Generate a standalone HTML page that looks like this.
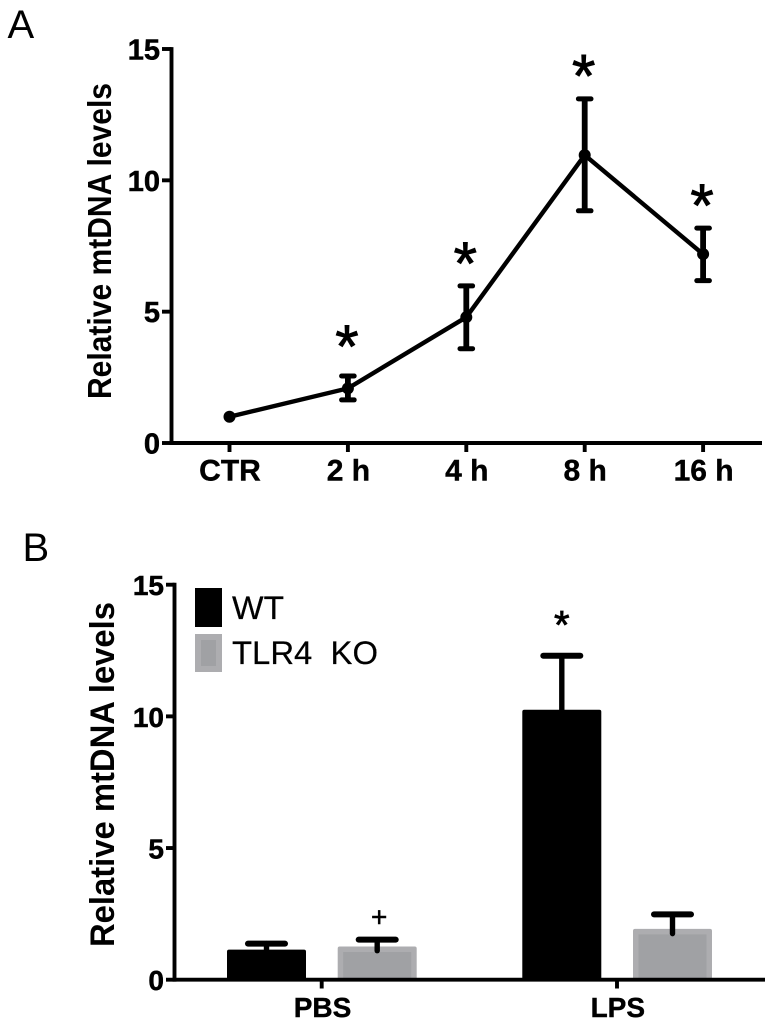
<!DOCTYPE html>
<html lang="en">
<head>
<meta charset="utf-8">
<title>Relative mtDNA levels</title>
<style>
html,body{margin:0;padding:0;background:#fff;width:770px;height:1024px;overflow:hidden}
svg{display:block;font-family:"Liberation Sans",Arial,sans-serif}
</style>
</head>
<body>
<svg id="figure" xmlns="http://www.w3.org/2000/svg" width="770" height="1024" viewBox="0 0 770 1024">
  <g filter="url(#soft)" id="root">
    <text x="7.5" y="38" font-size="40">A</text>
    <text x="22.5" y="561" font-size="40">B</text>
    <text transform="translate(111,399) rotate(-90)" font-size="33" font-weight="bold" textLength="316" lengthAdjust="spacingAndGlyphs">Relative mtDNA levels</text>
    <text transform="translate(114,947) rotate(-90)" font-size="34.5" font-weight="bold" textLength="345" lengthAdjust="spacingAndGlyphs">Relative mtDNA levels</text>
    <rect x="195" y="588" width="27" height="39" fill="#000"/>
    <rect x="195" y="634" width="27" height="38" fill="#adadb0"/>
    <rect x="201" y="640" width="15" height="26" fill="#a0a1a4"/>
    <text x="232" y="619" font-size="32" stroke="#000" stroke-width="0.2" textLength="52" lengthAdjust="spacingAndGlyphs">WT</text>
    <text x="232" y="664" font-size="32" stroke="#000" stroke-width="0.2" xml:space="preserve" textLength="146" lengthAdjust="spacingAndGlyphs">TLR4  KO</text>
  </g>
  <defs>
    <filter id="soft" x="0" y="0" width="770" height="1024" filterUnits="userSpaceOnUse">
      <feGaussianBlur stdDeviation="0.35"/>
    </filter>
  </defs>
</svg>
<script>
// Panel A data
const categoriesA = ['CTR', '2 h', '4 h', '8 h', '16 h'];
const meanA = [1.0, 2.08, 4.79, 10.96, 7.19];
const upperA = [1.0, 2.55, 5.98, 13.1, 8.18];
const lowerA = [1.0, 1.64, 3.59, 8.84, 6.18];
const starA = [null, 4.0, 7.16, 14.3, 9.37];
const ticksA = [0, 5, 10, 15];

// Panel B data
const groupsB = ['PBS', 'LPS'];
const meanWT = [1.14, 10.25];
const upperWT = [1.37, 12.3];
const lowerWT = [0.95, 8.2];
const meanKO = [1.26, 1.93];
const upperKO = [1.52, 2.48];
const lowerKO = [1.1, 1.75];
const ticksB = [0, 5, 10, 15];

const NS = 'http://www.w3.org/2000/svg';
const root = document.getElementById('root');
function mk(tag, attrs, txt) {
  const n = document.createElementNS(NS, tag);
  for (const k in attrs) n.setAttribute(k, attrs[k]);
  if (txt !== undefined) n.textContent = txt;
  root.appendChild(n);
  return n;
}
function line(x1, y1, x2, y2, w, cap) {
  return mk('line', {x1, y1, x2, y2, stroke: '#000', 'stroke-width': w, 'stroke-linecap': cap || 'butt'});
}

// Scales
const yA = v => 443 - v * (394 / 15);
const xA = i => 229.5 + i * 118.4;
const yB = v => 979.7 - v * (395 / 15);
const xB = i => 321.7 + i * 295.3;
const barW = 79;
const offWT = -55.2;
const offKO = 55.5;
const axisW = 3.9;

// Panel A axes
let el = line(171.5, yA(15) - 1.9, 171.5, yA(0) + 1.9, axisW);


el = line(171.5, yA(0), 762, yA(0), axisW);


ticksA.forEach(t => {
  const tk = line(162, yA(t), 171.5, yA(t), axisW);
  
  
  const lb = mk('text', {x: 160, y: yA(t) + 10.5, 'font-size': 29, 'font-weight': 'bold', 'text-anchor': 'end', stroke: '#000', 'stroke-width': 0.5}, String(t));
  
  
});
categoriesA.forEach((c, i) => {
  const tk = line(xA(i), yA(0), xA(i), 452, axisW);
  
  
  const lb = mk('text', {x: xA(i) + 0.5, y: 480.5, 'font-size': 30, 'font-weight': 'bold', 'text-anchor': 'middle', stroke: '#000', 'stroke-width': 0.4}, c);
  
  
});

// Panel A series
const trend = mk('polyline', {
  points: meanA.map((v, i) => xA(i) + ',' + yA(v)).join(' '),
  fill: 'none', stroke: '#000', 'stroke-width': 4.4, 'stroke-linejoin': 'miter'
});


meanA.forEach((v, i) => {
  if (upperA[i] !== lowerA[i]) {
    const st = line(xA(i), yA(upperA[i]), xA(i), yA(lowerA[i]), 5.8);
    
    
    const c1 = line(xA(i) - 6.3, yA(upperA[i]), xA(i) + 6.3, yA(upperA[i]), 5, 'round');
    
    
    const c2 = line(xA(i) - 6.3, yA(lowerA[i]), xA(i) + 6.3, yA(lowerA[i]), 5, 'round');
    
    
  }
  const pt = mk('circle', {cx: xA(i), cy: yA(v), r: 6, fill: '#000'});
  
  
  if (starA[i] !== null) {
    const s = mk('text', {x: xA(i) - 1, y: yA(starA[i]) + 29, 'font-size': 60, 'text-anchor': 'middle', stroke: '#000', 'stroke-width': 0.9}, '*');
    
    
  }
});

// Panel B bars
function drawError(cx, up, low) {
  const st = line(cx, yB(up), cx, yB(low), 5.4, 'round');
  
  
  const c = line(cx - 18.5, yB(up), cx + 18.5, yB(up), 6, 'round');
  
  
}
groupsB.forEach((g, i) => {
  const cw = xB(i) + offWT;
  const ck = xB(i) + offKO;
  const w = mk('rect', {x: cw - barW / 2, y: yB(meanWT[i]), width: barW, height: yB(0) - yB(meanWT[i]), rx: 2, fill: '#000'});
  
  
  const k = mk('rect', {x: ck - barW / 2, y: yB(meanKO[i]), width: barW, height: yB(0) - yB(meanKO[i]), rx: 2, fill: '#adadb0'});
  
  
  const ki = mk('rect', {x: ck - barW / 2 + 5.5, y: yB(meanKO[i]) + 5.5, width: barW - 11, height: Math.max(0, yB(0) - yB(meanKO[i]) - 5.5), fill: '#a0a1a4'});
  
  
  drawError(cw, upperWT[i], lowerWT[i]);
  drawError(ck, upperKO[i], lowerKO[i]);
});

// Panel B axes
el = line(174.5, yB(15) - 1.9, 174.5, yB(0) + 1.9, axisW);


el = line(174.5, yB(0), 765, yB(0), axisW);


ticksB.forEach(t => {
  const tk = line(166, yB(t), 174.5, yB(t), axisW);
  
  
  const lb = mk('text', {x: 164, y: yB(t) + 10.5, 'font-size': 28, 'font-weight': 'bold', 'text-anchor': 'end', stroke: '#000', 'stroke-width': 0.5}, String(t));
  
  
});
groupsB.forEach((g, i) => {
  const tk = line(xB(i), yB(0), xB(i), 988.5, axisW);
  
  
  const lb = mk('text', {x: xB(i) + 0.8, y: 1017, 'font-size': 28, 'font-weight': 'bold', 'text-anchor': 'middle', stroke: '#000', 'stroke-width': 0.4}, g);
  
  
});

// Panel B annotations
el = mk('text', {x: xB(1) + offWT, y: yB(13.6) + 17, 'font-size': 40, 'text-anchor': 'middle', stroke: '#000', 'stroke-width': 0.8}, '*');


el = mk('text', {x: xB(0) + offKO + 2, y: yB(2.36) + 9, 'font-size': 28, 'text-anchor': 'middle', stroke: '#000', 'stroke-width': 0.5}, '+');


</script>
</body>
</html>
